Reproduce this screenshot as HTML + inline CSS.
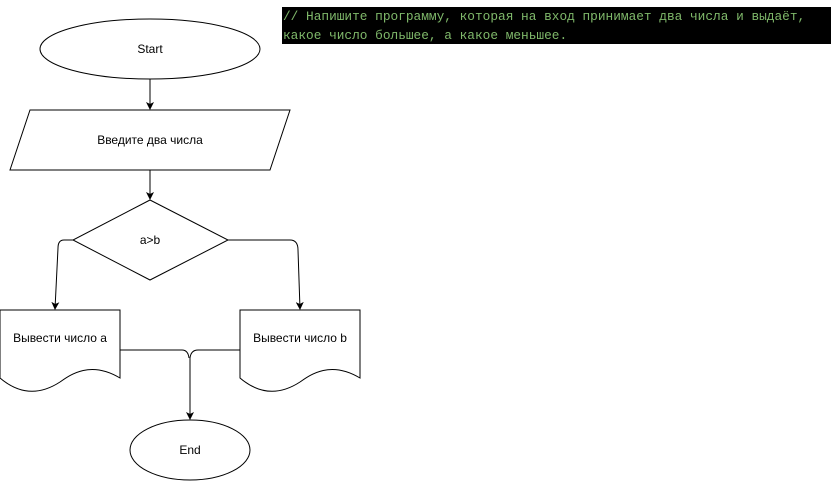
<!DOCTYPE html>
<html><head><meta charset="utf-8"><style>
body{margin:0;background:#fff;width:831px;height:481px;overflow:hidden;position:relative}
.code{position:absolute;left:282px;top:7px;width:549px;height:37px;background:#000;color:#7fb86a;font-family:"Liberation Mono",monospace;font-size:12.8px;line-height:19px;padding-left:1px;white-space:pre;overflow:hidden}
svg{position:absolute;left:0;top:0}
text{font-family:"Liberation Sans",sans-serif;font-size:12px;fill:#000}
</style></head><body>
<div class="code">// Напишите программу, которая на вход принимает два числа и выдаёт,
какое число большее, а какое меньшее.</div>
<svg width="831" height="481" viewBox="0 0 831 481">
<defs><marker id="a" markerWidth="8" markerHeight="8" refX="7" refY="4" orient="auto" markerUnits="userSpaceOnUse"><path d="M0,0 L8,4 L0,8 L2,4 Z" fill="#000"/></marker></defs>
<g fill="#fff" stroke="#000" stroke-width="1">
<ellipse cx="150" cy="49" rx="110" ry="30"/>
<polygon points="30,110 290,110 270,170 10,170"/>
<polygon points="150,200 228,240 150,280 73,240"/>
<path d="M0,310 H120 V378 C90,360 70,375 60,382 C40,395 20,395 0,378 Z"/>
<path d="M240,310 H360 V378 C330,360 310,375 300,382 C280,395 260,395 240,378 Z"/>
<ellipse cx="190" cy="450" rx="60" ry="30"/>
</g>
<g fill="none" stroke="#000" stroke-width="1">
<line x1="150" y1="79" x2="150" y2="109" marker-end="url(#a)"/>
<line x1="150" y1="170" x2="150" y2="199" marker-end="url(#a)"/>
<path d="M73,240 H64 Q58,240 58,248 L55,309" marker-end="url(#a)"/>
<path d="M228,240 H290 Q298,240 298,250 L300,309" marker-end="url(#a)"/>
<path d="M120,350 H182 Q188,350 189,358"/>
<path d="M240,350 H198 Q191,350 190,358 V419" marker-end="url(#a)"/>
</g>
<text x="150" y="53" text-anchor="middle">Start</text>
<text x="150" y="144" text-anchor="middle">Введите два числа</text>
<text x="150" y="244" text-anchor="middle">a&gt;b</text>
<text x="60" y="342" text-anchor="middle">Вывести число a</text>
<text x="300" y="342" text-anchor="middle">Вывести число b</text>
<text x="190" y="454" text-anchor="middle">End</text>
</svg>
</body></html>
